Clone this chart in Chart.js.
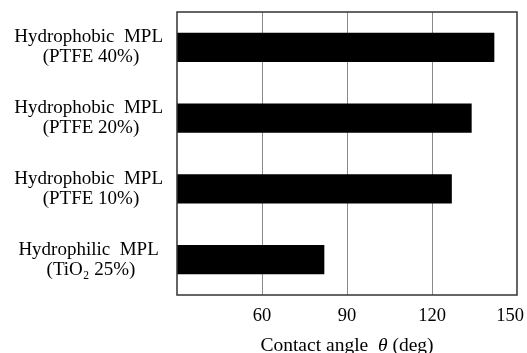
<!DOCTYPE html>
<html><head><meta charset="utf-8">
<script src="https://cdn.jsdelivr.net/npm/chart.js@4/dist/chart.umd.min.js"></script>
<style>html,body{margin:0;padding:0;background:#fff;}</style>
</head><body>
<canvas id="c" width="527" height="353"></canvas>
<script>
const categories = [
  ["Hydrophobic  MPL", " (PTFE 40%)"],
  ["Hydrophobic  MPL", " (PTFE 20%)"],
  ["Hydrophobic  MPL", " (PTFE 10%)"],
  ["Hydrophilic  MPL", " (TiO\u2082 25%)"]
];
const contactAngle = [142, 134, 127, 82];
const xTickLabels = [60, 90, 120, 150];
const xMin = 30, xMax = 150, xStep = 30;
const axisTitleParts = ["Contact angle  ", "\u03B8", " (deg)"];

const FONT = '"Liberation Serif", "Times New Roman", "DejaVu Serif", serif';

const framePlugin = {
  id: 'frame',
  afterDatasetsDraw(chart) {
    const {ctx, chartArea: a} = chart;
    ctx.save();
    ctx.strokeStyle = '#333';
    ctx.lineWidth = 1.5;
    ctx.strokeRect(a.left, a.top, a.right - a.left, a.bottom - a.top);
    ctx.restore();
  }
};

const titlePlugin = {
  id: 'xtitle',
  afterDraw(chart) {
    const {ctx, chartArea: a} = chart;
    ctx.save();
    ctx.fillStyle = '#000';
    ctx.textBaseline = 'alphabetic';
    const fonts = ['19.5px ' + FONT, 'italic 19.5px ' + FONT, '19.5px ' + FONT];
    let widths = axisTitleParts.map((t, i) => { ctx.font = fonts[i]; return ctx.measureText(t).width; });
    const total = widths.reduce((s, w) => s + w, 0);
    let x = (a.left + a.right) / 2 - total / 2;
    const y = 351;
    axisTitleParts.forEach((t, i) => {
      ctx.font = fonts[i];
      ctx.textAlign = 'left';
      ctx.fillText(t, x, y);
      x += widths[i];
    });
    ctx.restore();
  }
};

new Chart(document.getElementById('c'), {
  type: 'bar',
  data: {
    labels: categories,
    datasets: [{
      data: contactAngle,
      backgroundColor: '#000',
      borderWidth: 0,
      barPercentage: 0.41,
      categoryPercentage: 1
    }]
  },
  options: {
    indexAxis: 'y',
    responsive: false,
    animation: false,
    devicePixelRatio: 1,
    layout: { padding: { top: 12, right: 10, left: 0, bottom: 0 } },
    plugins: { legend: { display: false }, tooltip: { enabled: false }, title: { display: false } },
    scales: {
      x: {
        min: xMin, max: xMax,
        afterFit(scale) { scale.height = 58; scale.paddingRight = 0; scale.paddingLeft = 0; },
        ticks: {
          stepSize: xStep,
          padding: 10,
          color: '#000',
          font: { family: FONT, size: 18.5 },
          callback: v => xTickLabels.includes(v) ? (v === xMax ? String(v) + '   ' : String(v)) : ''
        },
        grid: {
          drawTicks: false,
          color: ctx => (ctx.tick && xTickLabels.includes(ctx.tick.value) && ctx.tick.value !== xMax) ? '#8a8a8a' : 'rgba(0,0,0,0)',
          lineWidth: 1
        },
        border: { display: false }
      },
      y: {
        afterFit(scale) { scale.width = 177; scale.paddingTop = 0; scale.paddingBottom = 0; },
        ticks: {
          crossAlign: 'center',
          padding: 14,
          color: '#000',
          font: { family: FONT, size: 19, lineHeight: 1.05 }
        },
        grid: { display: false, drawTicks: false },
        border: { display: false }
      }
    }
  },
  plugins: [framePlugin, titlePlugin]
});
</script>
</body></html>
